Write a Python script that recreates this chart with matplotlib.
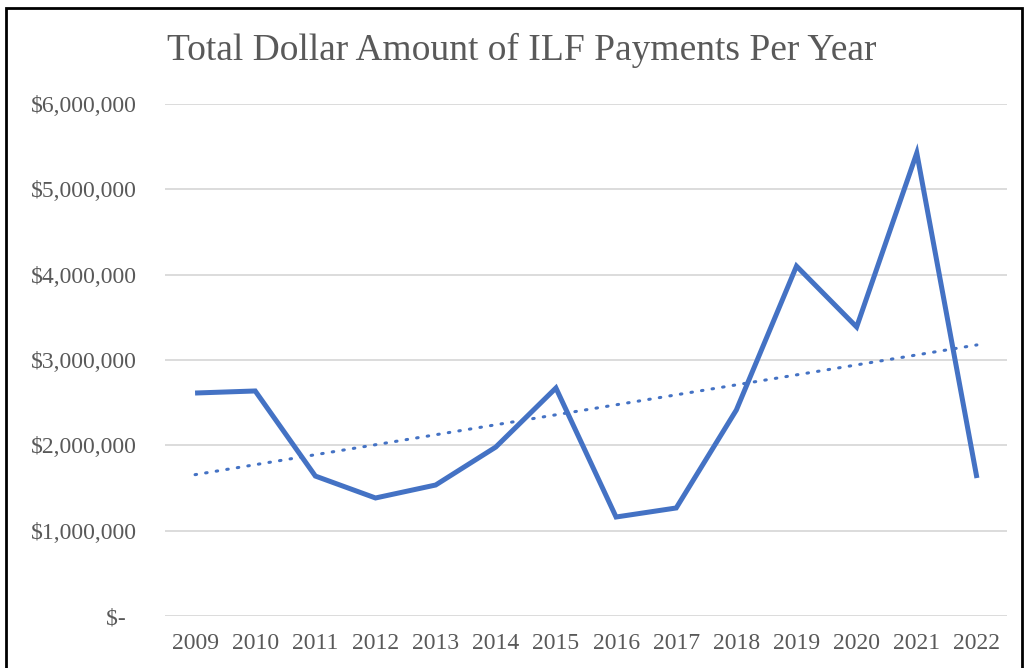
import numpy as np
import matplotlib
matplotlib.use("Agg")
import matplotlib.pyplot as plt
from matplotlib.patches import Rectangle

years = ['2009', '2010', '2011', '2012', '2013', '2014', '2015',
         '2016', '2017', '2018', '2019', '2020', '2021', '2022']
payments = [2613000, 2637000, 1640000, 1383000, 1535000, 1980000, 2672000,
            1160000, 1266000, 2414000, 4100000, 3387000, 5426000, 1617000]
y_ticks = [0, 1000000, 2000000, 3000000, 4000000, 5000000, 6000000]
y_labels = ['$-  ', '$1,000,000', '$2,000,000', '$3,000,000',
            '$4,000,000', '$5,000,000', '$6,000,000']

plt.rcParams['font.family'] = ['Liberation Serif', 'DejaVu Serif']
txt = '#595959'
blue = '#4472C4'

fig = plt.figure(figsize=(10.26, 6.68), dpi=100)
ax = fig.add_axes([165/1026, 52/668, (1007-165)/1026, (616-104)/668])

x = np.arange(len(years))
ax.plot(x, payments, color=blue, lw=3.6, solid_joinstyle='miter',
        solid_capstyle='butt', zorder=3)

# linear trendline
coef = np.polyfit(x, payments, 1)
ax.plot(x, np.polyval(coef, x), color=blue, lw=2.2,
        linestyle=(0, (0.5, 3.0)), dash_capstyle='round', zorder=2)

ax.set_xlim(-0.5, len(years) - 0.5)
ax.set_ylim(0, 6000000)
ax.set_xticks(x)
ax.set_xticklabels(years)
ax.set_yticks(y_ticks)
ax.set_yticklabels(y_labels)
ax.tick_params(length=0, labelsize=17, labelcolor=txt)
ax.tick_params(axis='y', pad=20)
ax.tick_params(axis='x', pad=12)
ax.grid(axis='y', color='#d9d9d9', lw=1.3)
ax.set_axisbelow(True)
for s in ax.spines.values():
    s.set_visible(False)

fig.text(522/1026, 1 - 50/668, 'Total Dollar Amount of ILF Payments Per Year',
         ha='center', va='center', fontsize=27, color=txt)

# outer frame
fig.patches.append(Rectangle((6/1026, -0.05), (1022-6)/1026, 1.05 - 8/668,
                             transform=fig.transFigure, fill=False,
                             edgecolor='black', lw=2))

fig.savefig('out.png', dpi=100)
